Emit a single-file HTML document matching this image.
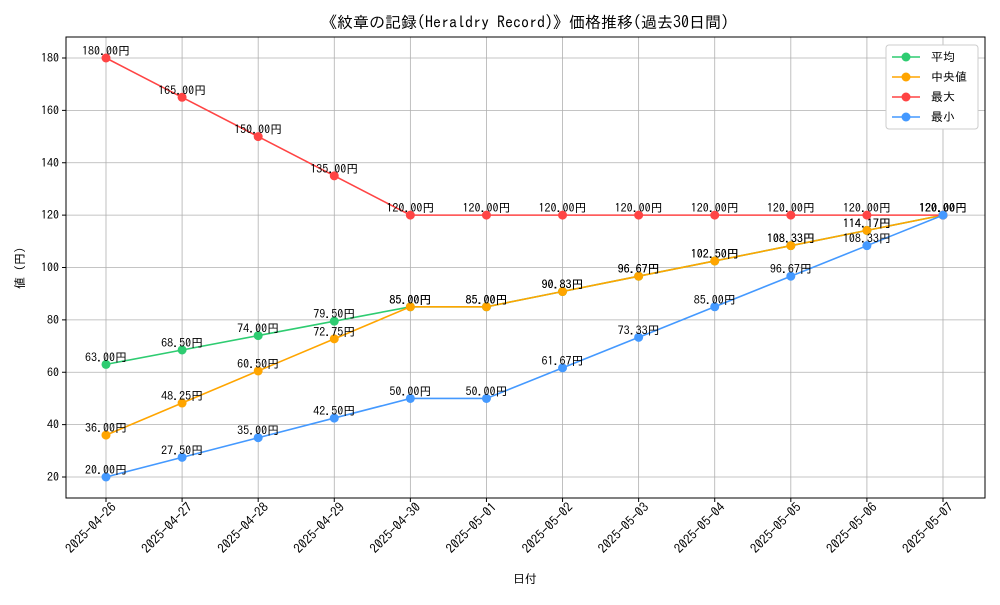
<!DOCTYPE html>
<html><head><meta charset="utf-8"><style>
body{margin:0;background:#fff}
svg text{font-family:"IPAGothic","Liberation Sans","Noto Sans CJK JP",sans-serif}
</style></head><body>
<svg id="c" width="1000" height="600" xmlns="http://www.w3.org/2000/svg"></svg>
<script>
const categories=["2025-04-26","2025-04-27","2025-04-28","2025-04-29","2025-04-30","2025-05-01","2025-05-02","2025-05-03","2025-05-04","2025-05-05","2025-05-06","2025-05-07"];
const avgValues=[63,68.5,74,79.5,85,85,90.83,96.67,102.5,108.33,114.17,120];
const medianValues=[36,48.25,60.5,72.75,85,85,90.83,96.67,102.5,108.33,114.17,120];
const maxValues=[180,165,150,135,120,120,120,120,120,120,120,120];
const minValues=[20,27.5,35,42.5,50,50,61.67,73.33,85,96.67,108.33,120];
const yTicks=[20,40,60,80,100,120,140,160,180];
const seriesNames=["平均"," 中央値","最大","最小"];
const svg=document.getElementById('c');const NS="http://www.w3.org/2000/svg";
const L=66,R=985,T=37,B=498;
const xs=i=>106+i*(943-106)/(categories.length-1);
const ys=v=>477-(v-20)*(477-58)/160;
function el(t,a,p){const e=document.createElementNS(NS,t);for(const k in a)e.setAttribute(k,a[k]);(p||svg).appendChild(e);return e;}
function tx(s,a){const e=el('text',a);e.textContent=s;return e;}
yTicks.forEach(v=>{const g=el('line',{x1:L,x2:R,y1:ys(v),y2:ys(v),stroke:'#b0b0b0','stroke-width':0.8});

el('line',{x1:L-4,x2:L,y1:ys(v),y2:ys(v),stroke:'#000'});
const t=tx(String(v),{x:L-7,y:ys(v)+4,'text-anchor':'end','font-size':12});
});
categories.forEach((c,i)=>{const x=xs(i);const g=el('line',{x1:x,x2:x,y1:T,y2:B,stroke:'#b0b0b0','stroke-width':0.8});

el('line',{x1:x,x2:x,y1:B,y2:B+4,stroke:'#000'});
const ax=x+11,ay=B+10;
const t=tx(c,{x:ax,y:ay,'text-anchor':'end','font-size':13,transform:`rotate(-45 ${ax} ${ay})`});
});
const fr=el('rect',{x:L,y:T,width:R-L,height:B-T,fill:'none',stroke:'#000','stroke-width':1});

const series=[[avgValues,'#2ecc71'],[medianValues,'#ffa500'],[maxValues,'#ff4444'],[minValues,'#4499ff']];
series.forEach(([vals,col],si)=>{
const p=el('polyline',{points:vals.map((v,i)=>xs(i)+','+ys(v)).join(' '),fill:'none',stroke:col,'stroke-width':1.6});

vals.forEach((v,i)=>{const c=el('circle',{cx:xs(i),cy:ys(v),r:4.5,fill:col});

const t=tx(v.toFixed(2)+'円',{x:xs(i),y:ys(v)-3,'text-anchor':'middle','font-size':12});
});});
const title=tx('《紋章の記録(Heraldry Record)》価格推移(過去30日間)',{x:525,y:28,'text-anchor':'middle','font-size':16});

const xt=tx('日付',{x:525,y:583,'text-anchor':'middle','font-size':12});

const yt=tx('値 (円)',{x:24,y:268,'text-anchor':'middle','font-size':12,transform:'rotate(-90 24 268)'});

const lg=el('rect',{x:886,y:45,width:92,height:84,fill:'#fff',stroke:'#ccc',rx:3});

series.forEach(([v,col],i)=>{const y=57+i*20;
el('line',{x1:892,x2:920,y1:y,y2:y,stroke:col,'stroke-width':1.6});
el('circle',{cx:906,cy:y,r:4.5,fill:col});
const t=tx(seriesNames[i],{x:931,y:y+4,'font-size':12,'xml:space':'preserve'});
});
</script>
</body></html>
